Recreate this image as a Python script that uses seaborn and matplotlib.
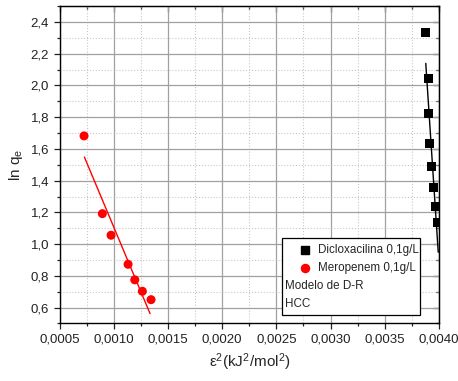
import numpy as np
import pandas as pd
import matplotlib
matplotlib.use("Agg")
import matplotlib.pyplot as plt
import seaborn as sns
from matplotlib.ticker import MultipleLocator, FuncFormatter, NullFormatter
from matplotlib.patches import Rectangle

# Dicloxacilina 0,1g/L
diclo_x = [0.003878, 0.003900, 0.003900, 0.003909, 0.003933, 0.003948, 0.003970, 0.003989]
diclo_y = [2.332, 2.042, 1.821, 1.634, 1.490, 1.356, 1.238, 1.135]
diclo_fit_x = [0.003878, 0.003993]
diclo_fit_y = [2.139, 0.949]

# Meropenem 0,1g/L
mero_x = [0.000726, 0.000895, 0.000975, 0.001132, 0.001194, 0.001264, 0.001344]
mero_y = [1.682, 1.192, 1.056, 0.873, 0.775, 0.703, 0.650]
mero_fit_x = [0.000729, 0.001335]
mero_fit_y = [1.549, 0.562]

labels = ["Dicloxacilina 0,1g/L", "Meropenem 0,1g/L"]
notes = ["Modelo de D-R", "HCC"]

sns.set_style("white")
plt.rcParams["font.family"] = ["Liberation Sans", "DejaVu Sans"]
plt.rcParams["mathtext.fontset"] = "custom"
plt.rcParams["mathtext.rm"] = "Liberation Sans"
plt.rcParams["mathtext.it"] = "Liberation Sans:italic"

fig = plt.figure(figsize=(4.58, 3.81), dpi=100)
ax = fig.add_axes([0.130, 0.151, 0.8285, 0.833])

pts = pd.DataFrame({"x": diclo_x, "y": diclo_y})
sns.scatterplot(data=pts, x="x", y="y", marker="s", color="black", s=40,
                edgecolor="none", ax=ax, zorder=4)
sns.lineplot(x=diclo_fit_x, y=diclo_fit_y, color="black", lw=1, sort=False, ax=ax, zorder=3)

pts = pd.DataFrame({"x": mero_x, "y": mero_y})
sns.scatterplot(data=pts, x="x", y="y", marker="o", color="red", s=42,
                edgecolor="none", ax=ax, zorder=4)
sns.lineplot(x=mero_fit_x, y=mero_fit_y, color="red", lw=1, sort=False, ax=ax, zorder=3)

ax.set_xlim(0.0005, 0.0040)
ax.set_ylim(0.5, 2.5)
ax.xaxis.set_major_locator(MultipleLocator(0.0005))
ax.xaxis.set_minor_locator(MultipleLocator(0.00025))
ax.yaxis.set_major_locator(MultipleLocator(0.2))
ax.yaxis.set_minor_locator(MultipleLocator(0.1))
ax.xaxis.set_major_formatter(FuncFormatter(lambda v, p: f"{v:.4f}".replace(".", ",")))
ax.yaxis.set_major_formatter(FuncFormatter(lambda v, p: f"{v:.1f}".replace(".", ",")))

ax.grid(which="major", color="#a0a0a0", lw=0.9, ls="-")
ax.grid(which="minor", color="#c8c8c8", lw=0.8, ls=":")
ax.set_axisbelow(True)

ax.tick_params(which="both", direction="out", bottom=True, left=True,
               labelsize=9.5, colors="#222222", width=0.9)
ax.tick_params(which="major", length=4)
ax.tick_params(which="minor", length=2.5)
for sp in ax.spines.values():
    sp.set_color("black")
    sp.set_linewidth(1)

# inward ticks on top and right, no labels
top = ax.secondary_xaxis("top")
right = ax.secondary_yaxis("right")
top.xaxis.set_major_locator(MultipleLocator(0.0005))
top.xaxis.set_minor_locator(MultipleLocator(0.00025))
right.yaxis.set_major_locator(MultipleLocator(0.2))
right.yaxis.set_minor_locator(MultipleLocator(0.1))
for sec in (top, right):
    sec.tick_params(which="both", direction="in", labelsize=0, width=0.9, colors="black")
    sec.tick_params(which="major", length=4)
    sec.tick_params(which="minor", length=2.5)
top.xaxis.set_major_formatter(NullFormatter())
right.yaxis.set_major_formatter(NullFormatter())

ax.set_xlabel(r"$\mathregular{\epsilon^2(kJ^2/mol^2)}$", fontsize=11, labelpad=4)
ax.set_ylabel(r"$\mathregular{ln\ q_e}$", fontsize=11, labelpad=4)

# legend box
ax.add_patch(Rectangle((0.587, 0.028), 0.364, 0.242, transform=ax.transAxes,
                       facecolor="white", edgecolor="black", lw=0.9, zorder=6))
ax.scatter([0.647], [0.233], transform=ax.transAxes, marker="s", s=28,
           color="black", zorder=7)
ax.scatter([0.647], [0.176], transform=ax.transAxes, marker="o", s=34,
           color="red", zorder=7)
ax.text(0.682, 0.233, labels[0], transform=ax.transAxes, va="center", fontsize=8.4, zorder=7)
ax.text(0.682, 0.176, labels[1], transform=ax.transAxes, va="center", fontsize=8.4, zorder=7)
ax.text(0.594, 0.118, notes[0], transform=ax.transAxes, va="center", fontsize=8.4, zorder=7)
ax.text(0.594, 0.062, notes[1], transform=ax.transAxes, va="center", fontsize=8.4, zorder=7)

fig.savefig("out.png", dpi=100)
